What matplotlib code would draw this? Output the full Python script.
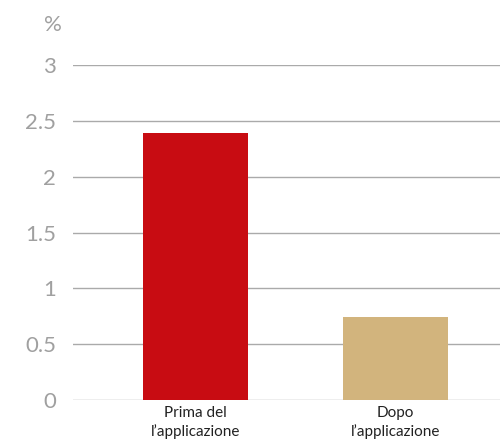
import matplotlib
matplotlib.use("Agg")
import matplotlib.pyplot as plt

categorie = ["Prima del\nl\u2019applicazione", "Dopo\nl\u2019applicazione"]
valori = [2.39, 0.74]
colori = ["#C80C12", "#D2B47D"]
tick_y = [0, 0.5, 1, 1.5, 2, 2.5, 3]
tick_lab = ["0", "0.5", "1", "1.5", "2", "2.5", "3"]

plt.rcParams["font.family"] = ["Lato", "DejaVu Sans"]

fig = plt.figure(figsize=(5, 4.48), dpi=100)
ax = fig.add_axes([73 / 500, (448 - 400) / 448, 427 / 500, (400 - 65) / 448])

x = range(len(categorie))
ax.bar(x, valori, width=0.525, color=colori, zorder=3)

ax.set_ylim(0, 3)
ax.set_xlim(-0.6125, 1.5225)
ax.set_yticks(tick_y)
ax.set_yticklabels(tick_lab, color="#a0a0a0", fontsize=16)
ax.set_xticks(list(x))
ax.set_xticklabels(categorie, fontsize=11, color="#222222", linespacing=1.35)
ax.tick_params(axis="y", length=0, pad=12)
ax.tick_params(axis="x", length=0, pad=4)
ax.grid(axis="y", color="#aaaaaa", linewidth=1, zorder=0)
for s in ax.spines.values():
    s.set_visible(False)

fig.text(62 / 500, 1 - 25 / 448, "%", color="#a0a0a0", fontsize=16,
         ha="right", va="center")

fig.savefig("out.png", dpi=100)
